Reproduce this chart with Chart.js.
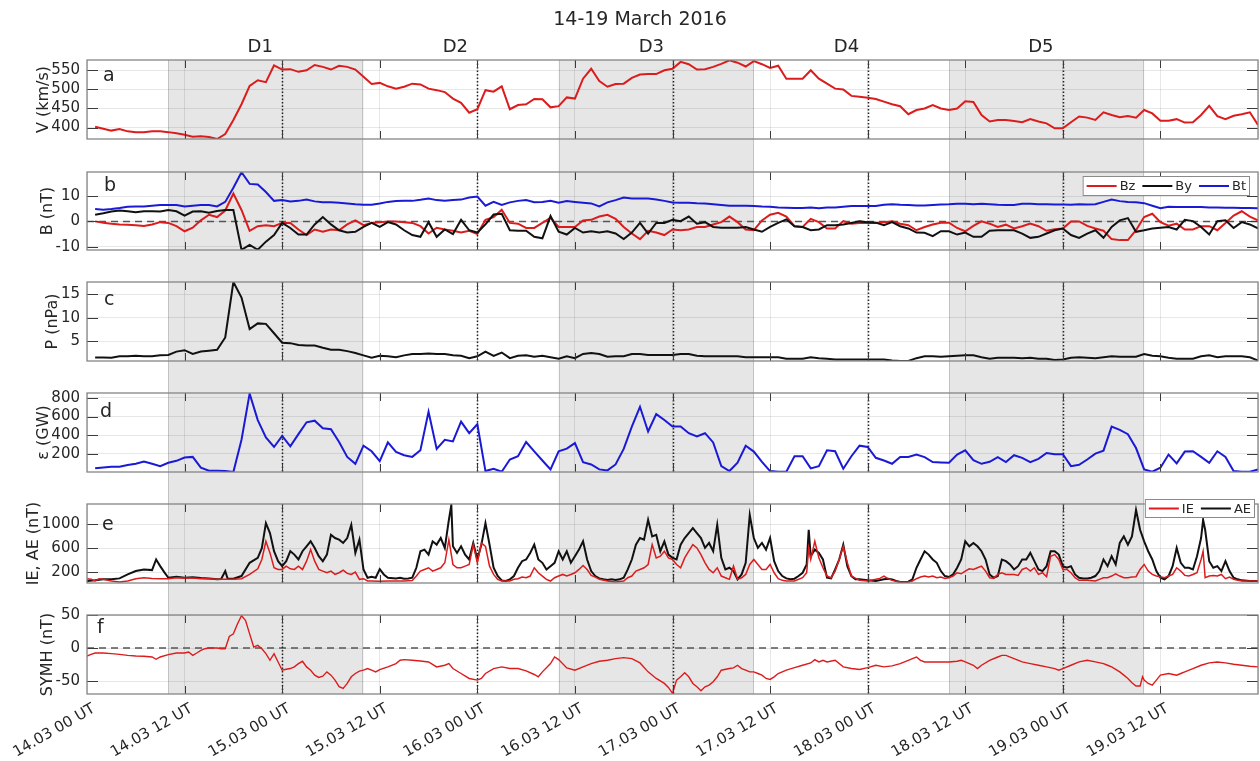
<!DOCTYPE html>
<html><head><meta charset="utf-8">
<script src="https://cdn.jsdelivr.net/npm/chart.js@4.4.1/dist/chart.umd.min.js"></script>
<style>
html,body{margin:0;padding:0;background:#fff;width:1260px;height:761px;overflow:hidden;position:relative}
canvas{position:absolute;left:0}
</style></head><body>
<canvas id="pa"></canvas><canvas id="pb"></canvas><canvas id="pc"></canvas>
<canvas id="pd"></canvas><canvas id="pe"></canvas><canvas id="pf"></canvas>
<script>
// ---------------- DATA ----------------
const chartTitle = '14-19 March 2016';
const xTickHours = [0,12,24,36,48,60,72,84,96,108,120,132,144];
const xTickLabels = ['14.03 00 UT','14.03 12 UT','15.03 00 UT','15.03 12 UT','16.03 00 UT','16.03 12 UT','17.03 00 UT','17.03 12 UT','18.03 00 UT','18.03 12 UT','19.03 00 UT','19.03 12 UT',''];
const dayLineHours = [24,48,72,96,120];
const shadedIntervals = [[10,34],[58,82],[106,130]];
const intervalNames = ['D1','D2','D3','D4','D5'];
const intervalLabelHours = [21.3,45.3,69.4,93.4,117.3];
const hourlyFirstHour = 1; // hourly values start at 14.03 01 UT

// solar wind speed V (km/s), hourly
const speedV = [402,397,392,396,390,388,388,390,390,388,385,381,376,377,375,370,383,420,461,509,524,519,563,552,553,546,550,564,559,552,562,559,552,533,514,517,508,502,507,515,
513,502,498,493,476,465,439,448,498,494,508,448,459,461,475,474,453,456,479,476,528,554,522,507,514,515,530,539,540,540,550,554,572,566,552,553,559,567,576,570,560,574,566,556,562,528,528,528,550,528,
515,502,500,483,481,478,475,468,461,456,435,446,450,459,450,446,450,469,467,433,416,420,420,417,414,422,416,411,398,398,414,429,426,420,440,433,427,430,426,446,437,418,418,422,413,414,433,457,430,422,431,435,440,407];

// IMF components (nT), hourly
const bz = [0,-0.5,-0.9,-1.2,-1.3,-1.5,-1.8,-1.2,-0.3,-0.6,-1.9,-3.9,-2.5,0.4,2.6,1.7,4.3,11,4.5,-3.7,-1.9,-1.5,-1.9,-0.6,-0.6,-3.2,-5.4,-3.2,-4.1,-3.2,-3.5,-1.2,0.4,-1.5,-0.6,-0.3,0,0,-0.3,-0.6,
-1.9,-4.8,-2.5,-3.2,-3.7,-4.4,-3.7,-5.0,0.6,1.7,4.6,-0.6,-0.9,-2.6,-2.6,-0.6,1.4,-2.2,-2.2,-2.2,0.4,0.6,1.9,2.6,1.0,-2.2,-4.8,-7.0,-3.7,-4.4,-5.4,-3.2,-3.5,-3.2,-2.2,-2.2,-1.2,-0.3,1.9,-0.3,-3.2,-3.5,0.4,2.6,3.4,1.9,-1.9,-2.2,1.0,-0.3,
-2.8,-2.8,0.1,-0.9,-0.6,-0.6,-0.6,-0.3,0,-0.9,-1.5,-3.5,-2.2,-1.2,-0.5,-0.5,-2.6,-3.9,-1.8,0,-0.9,-2.2,-1.3,-2.8,-1.9,-0.9,-1.9,-3.7,-3.1,-2.8,0,0,-1.8,-2.8,-3.7,-7.0,-7.4,-7.4,-3.5,1.7,3.0,-0.3,-1.7,-0.9,-3.2,-3.2,-1.9,-1.9,-3.5,-0.6,2.3,4.0,1.9,0.4];
const by = [2.6,3.2,3.9,4.3,4.0,3.6,4.0,4.0,3.9,4.5,4.0,2.3,3.9,4.0,3.4,4.1,4.5,4.5,-11.2,-9.3,-11.2,-8,-5.4,-0.6,-2.6,-5.2,-5.2,-1.2,1.7,-1.2,-3.5,-4.4,-4.1,-2.2,-0.6,-2.2,-0.3,-1.2,-3.5,-5.4,
-6.1,-0.3,-6.1,-3.2,-5.0,0.6,-3.5,-4.4,-1.2,2.7,3.0,-3.5,-3.7,-3.7,-6.1,-6.7,2.1,-4.1,-5.2,-2.6,-4.4,-3.9,-4.4,-3.9,-4.8,-7.0,-4.4,-0.6,-4.8,-0.6,-0.6,0.6,0.1,1.9,-0.9,-0.3,-2.2,-2.5,-2.5,-2.5,-2.2,-3.2,-4.1,-2.2,-0.6,0.8,-1.9,-2.2,-3.5,-3.2,
-1.5,-1.5,-1.2,-0.6,0,-0.3,-0.5,-1.5,-0.3,-1.9,-2.8,-4.4,-4.5,-5.8,-3.9,-3.9,-5.2,-4.4,-6.1,-6.1,-3.7,-3.5,-3.5,-3.5,-4.8,-6.5,-6.1,-4.8,-3.5,-2.8,-5.4,-6.5,-4.8,-3.5,-6.5,-2.2,0.4,1.3,-4.1,-3.5,-2.8,-2.5,-2.2,-3.2,0.6,0.1,-2.2,-5.2,0.1,0.4,-2.6,-0.3,-1.2,-2.8];
const bt = [4.9,4.6,4.9,5.3,5.8,5.9,5.9,6.2,6.5,6.5,6.5,5.9,6.2,6.5,6.5,5.9,7.7,13.3,19.4,14.8,14.6,11.6,8.1,8.4,7.9,8.1,8.6,7.9,7.6,7.6,7.4,7.1,6.8,6.6,6.6,7.1,7.7,8.0,8.1,8.1,
8.5,9.0,8.4,8.1,8.4,8.6,9.4,9.8,6.2,7.7,6.5,7.5,8.1,8.4,7.6,7.7,8.1,7.4,8.0,7.7,7.4,7.1,5.9,7.5,8.4,9.4,9.0,9.0,9.0,8.6,8.1,7.5,7.4,7.4,7.2,7.1,6.8,6.5,6.2,6.2,6.2,6.1,5.9,5.8,5.5,5.4,5.3,5.3,5.5,5.2,
5.5,5.5,5.8,6.1,6.1,6.1,6.1,6.6,6.8,6.6,6.5,6.3,6.3,6.5,6.7,6.8,7.0,7.0,6.8,7.0,6.8,6.6,6.5,6.5,7.0,7.0,6.8,6.8,6.7,6.7,6.6,6.8,6.7,6.8,7.7,8.6,8.0,7.7,7.6,7.2,6.2,5.2,5.8,5.7,5.7,5.7,5.7,5.5,5.5,5.4,5.4,5.3,5.3,5.2];

// dynamic pressure P (nPa), hourly
const pressure = [1.55,1.55,1.5,1.8,1.8,1.9,1.8,1.8,2.0,2.1,2.8,3.1,2.3,2.8,3.0,3.2,5.8,17.6,14.3,7.6,8.8,8.7,6.7,4.7,4.6,4.2,4.1,4.1,3.6,3.2,3.2,2.9,2.5,2.0,1.5,1.9,1.8,1.6,2.0,2.3,
2.3,2.4,2.3,2.3,2.0,1.9,1.4,1.8,2.8,1.9,2.6,1.4,1.9,2.0,1.7,1.9,1.6,1.3,1.8,1.4,2.3,2.5,2.3,1.7,1.8,1.8,2.3,2.3,2.1,2.1,2.1,2.1,2.3,2.3,1.9,1.8,1.8,1.8,1.8,1.8,1.6,1.6,1.6,1.6,1.6,1.3,1.3,1.3,1.6,1.4,
1.3,1.1,1.1,1.1,1.1,1.1,1.1,1.1,0.9,0.8,0.8,1.4,1.8,1.8,1.7,1.8,1.9,2.0,2.0,1.6,1.3,1.5,1.5,1.5,1.4,1.5,1.3,1.3,1.0,1.1,1.5,1.6,1.5,1.4,1.6,1.8,1.7,1.7,1.7,2.3,1.9,1.8,1.5,1.3,1.3,1.3,1.8,2.0,1.6,1.8,1.8,1.8,1.6,0.9];

// coupling function epsilon (GW), hourly
const epsilon = [45,55,62,62,80,94,119,94,69,105,126,161,168,52,20,20,16,6,352,846,563,376,274,394,281,412,539,556,475,465,327,168,94,288,228,122,323,221,186,168,
239,652,253,352,334,546,422,518,16,41,9,140,175,327,228,129,34,228,256,316,112,87,34,23,87,253,493,705,440,627,563,493,493,422,387,422,323,69,16,105,288,225,115,16,9,9,175,175,45,69,
239,228,41,175,288,274,158,129,94,168,168,193,165,112,108,105,193,239,133,94,115,165,112,186,158,112,147,210,196,196,69,83,140,203,235,493,458,412,263,34,9,52,193,98,225,228,168,105,228,168,16,9,9,34];

// AE index (nT): [hour, value]
const aePoints = [[0,51],[1,62],[2,79],[3,79],[4,95],[5,161],[6,217],[7,244],[8,233],[8.5,410],[9,300],[9.5,200],[10,106],[11,123],[12,106],[13,112],[14,101],[15,95],[16,79],[16.5,85],[17,217],[17.3,90],[18,90],[19,134],[20,355],[21,437],[21.5,600],[22,1016],[22.5,851],[23,548],[23.5,382],[24,299],[24.5,382],[25,548],[25.5,492],[26,410],[26.5,548],[27,630],[27.5,713],[28,603],[28.5,465],[29,382],[29.5,492],[30,823],[30.5,768],[31,741],[31.5,686],[32,768],[32.5,989],[33,520],[33.5,741],[34,244],[34.5,106],[35,123],[35.5,106],[36,250],[36.5,161],[37,106],[38,95],[38.5,106],[39,90],[39.5,95],[40,106],[40.5,272],[41,548],[41.5,575],[42,492],[42.5,713],[43,658],[43.5,768],[44,603],[44.5,1072],[44.8,1320],[45,630],[45.5,520],[46,630],[46.5,492],[47,410],[47.5,686],[48,410],[48.5,658],[49,1016],[49.5,658],[50,272],[50.5,134],[51,62],[51.5,51],[52,79],[52.5,134],[53,272],[53.5,382],[54,410],[54.5,520],[55,658],[55.5,410],[56,355],[56.5,244],[57,299],[57.5,355],[58,548],[58.5,410],[59,548],[59.5,355],[60,465],[60.5,575],[61,713],[61.5,410],[62,217],[62.5,134],[63,95],[63.5,79],[64,68],[64.5,79],[65,68],[65.5,79],[66,106],[66.5,244],[67,410],[67.5,658],[68,768],[68.5,741],[69,1072],[69.5,796],[70,823],[70.5,548],[71,713],[71.5,492],[72,437],[72.5,410],[73,658],[73.5,768],[74,851],[74.5,934],[75,851],[75.5,768],[76,603],[76.5,686],[77,548],[77.5,989],[78,437],[78.5,244],[79,272],[79.5,217],[80,79],[80.5,161],[81,355],[81.5,1154],[82,768],[82.5,603],[83,686],[83.5,575],[84,768],[84.5,382],[85,217],[85.5,134],[86,95],[86.5,79],[87,90],[87.5,134],[88,189],[88.5,327],[88.75,906],[89,465],[89.5,575],[90,520],[90.5,410],[91,106],[91.5,95],[92,244],[92.5,410],[93,658],[93.5,299],[94,134],[94.5,79],[95,79],[96,62],[97,51],[98,79],[98.5,90],[99,79],[99.5,51],[100,35],[101,40],[101.5,79],[102,272],[102.5,410],[103,548],[103.5,492],[104,410],[104.5,355],[105,217],[105.5,134],[106,117],[106.5,161],[107,272],[107.5,410],[108,713],[108.5,630],[109,686],[109.5,630],[110,548],[110.5,410],[111,161],[111.5,106],[112,134],[112.5,410],[113,382],[113.5,327],[114,244],[114.5,299],[115,410],[115.5,410],[116,520],[116.5,382],[117,244],[117.5,217],[118,299],[118.5,548],[119,548],[119.5,492],[120,299],[120.5,272],[121,299],[121.5,161],[122,106],[122.5,95],[123,95],[123.5,106],[124,134],[124.5,217],[125,410],[125.5,299],[126,465],[126.5,327],[127,686],[127.5,796],[128,658],[128.5,796],[129,1237],[129.5,906],[130,713],[130.5,548],[131,410],[131.5,217],[132,106],[132.5,79],[133,134],[133.5,299],[134,603],[134.5,355],[135,272],[135.5,272],[136,244],[136.5,465],[137,768],[137.25,1072],[137.5,906],[138,382],[138.5,272],[139,299],[139.5,217],[140,382],[140.5,217],[141,106],[141.5,79],[142,62],[143,51],[144,51]];

// IE index (nT): [hour, value]
const iePoints = [[0,90],[0.5,79],[1,51],[1.5,90],[2,79],[3,51],[4,35],[5,51],[6,90],[7,106],[8,95],[9,90],[10,90],[11,106],[12,101],[13,101],[14,90],[15,90],[16,79],[17,79],[18,79],[19,90],[20,161],[21,255],[21.5,410],[22,713],[22.5,520],[23,272],[23.5,244],[24,244],[24.5,299],[25,255],[25.5,244],[26,299],[26.5,244],[27,382],[27.5,575],[28,382],[28.5,244],[29,217],[29.5,189],[30,217],[30.5,161],[31,189],[31.5,233],[32,178],[32.5,161],[33,200],[33.5,79],[34,90],[34.5,51],[35,51],[36,48],[37,51],[38,51],[39,51],[40,60],[40.5,134],[41,217],[41.5,244],[42,272],[42.5,217],[43,244],[43.5,272],[44,355],[44.5,741],[45,327],[45.5,272],[46,272],[46.5,299],[47,327],[47.5,658],[48,355],[48.5,686],[49,630],[49.5,299],[50,161],[50.5,79],[51,51],[52,51],[52.5,79],[53,90],[53.5,117],[54,106],[54.5,134],[55,272],[55.5,189],[56,134],[56.5,79],[57,51],[57.5,106],[58,134],[58.5,161],[59,134],[59.5,161],[60,189],[60.5,244],[61,310],[61.5,244],[62,145],[62.5,117],[63,79],[64,51],[65,35],[66,51],[66.5,106],[67,134],[67.5,217],[68,244],[68.5,272],[69,327],[69.5,658],[70,437],[70.5,465],[71,548],[71.5,437],[72,410],[72.5,327],[73,272],[73.5,437],[74,548],[74.5,658],[75,603],[75.5,492],[76,355],[76.5,244],[77,189],[77.5,272],[78,134],[78.5,106],[79,79],[79.5,299],[80,79],[80.5,106],[81,161],[81.5,327],[82,410],[82.5,327],[83,244],[83.5,244],[84,327],[84.5,189],[85,90],[85.5,62],[86,51],[87,51],[88,106],[88.5,189],[88.75,600],[89,410],[89.5,713],[90,437],[90.5,272],[91,134],[91.5,106],[92,217],[92.5,410],[93,630],[93.5,355],[94,134],[95,62],[96,51],[97,79],[97.5,95],[98,134],[98.5,90],[99,62],[100,35],[101,35],[101.5,51],[102,90],[102.5,117],[103,134],[103.5,117],[104,134],[104.5,106],[105,117],[105.5,95],[106,106],[106.5,134],[107,189],[107.5,172],[108,217],[108.5,255],[109,244],[109.5,272],[110,299],[110.5,217],[111,106],[111.5,95],[112,161],[112.5,189],[113,161],[113.5,161],[114,161],[114.5,145],[115,244],[115.5,272],[116,217],[116.5,272],[117,161],[117.5,189],[118,123],[118.5,465],[119,492],[119.5,410],[120,244],[120.5,244],[121,189],[121.5,106],[122,62],[123,62],[124,51],[124.5,79],[125,106],[125.5,106],[126,134],[126.5,172],[127,134],[127.5,106],[128,106],[128.5,117],[129,123],[129.5,244],[130,327],[130.5,217],[131,161],[131.5,134],[132,123],[132.5,106],[133,134],[133.5,161],[134,272],[134.5,217],[135,145],[135.5,134],[136,161],[136.5,189],[137,410],[137.25,548],[137.5,106],[138,134],[138.5,145],[139,134],[139.5,161],[140,90],[140.5,117],[141,79],[141.5,62],[142,51],[143,51],[144,51]];

// SYM-H (nT): [hour, value]
const symhPoints = [[0,-12],[0.5,-9.5],[1,-7.5],[2,-7.5],[3,-8.5],[4,-9.5],[5,-11],[6,-12],[7,-12.5],[8,-13.5],[8.5,-17],[9,-13.5],[10,-10],[11,-7.5],[12,-7.5],[12.5,-6],[13,-11],[13.5,-7.5],[14,-3.5],[14.5,-1],[15,0],[16,0],[16.5,-1],[17,-1],[17.5,17.5],[18,21.5],[18.5,36.5],[19,49],[19.5,41.5],[20,21.5],[20.5,1.5],[21,4],[21.5,-1],[22,-8.5],[22.5,-18.5],[23,-8.5],[23.5,-21],[24,-33.5],[24.5,-32],[25,-31],[25.5,-28.5],[26,-23.5],[26.5,-20],[27,-28.5],[27.5,-33.5],[28,-41],[28.5,-44.5],[29,-42.5],[29.5,-36],[30,-41],[30.5,-48.5],[31,-58.5],[31.5,-61],[32,-53.5],[32.5,-43.5],[33,-38.5],[33.5,-35],[34,-33.5],[34.5,-31],[35,-33.5],[35.5,-36],[36,-32.5],[37,-28.5],[38,-23.5],[38.5,-18.5],[39,-17.5],[40,-18.5],[41,-19.5],[42,-21],[43,-28.5],[44,-26],[44.5,-23.5],[45,-31],[46,-38.5],[47,-46],[48,-48.5],[48.5,-46],[49,-38.5],[50,-31],[51,-28.5],[52,-31],[53,-31],[54,-34.5],[55,-40],[55.5,-43.5],[56,-36],[57,-23.5],[57.5,-13.5],[58,-17.5],[59,-30],[60,-33.5],[61,-28.5],[62,-23.5],[63,-20],[64,-18.5],[65,-16],[66,-14.5],[67,-16],[68,-22.5],[69,-36],[70,-46],[71,-53.5],[71.5,-59.5],[72,-68.5],[72.5,-48.5],[73,-43.5],[73.5,-37.5],[74,-43.5],[74.5,-53.5],[75,-58.5],[75.5,-64.5],[76,-58.5],[76.5,-56],[77,-51],[77.5,-43.5],[78,-33.5],[79,-31],[79.5,-30],[80,-26],[80.5,-31],[81,-33.5],[81.5,-36],[82,-36],[82.5,-38.5],[83,-41],[83.5,-46],[84,-47.5],[84.5,-43.5],[85,-38.5],[86,-33.5],[87,-29.5],[88,-26],[89,-22.5],[89.5,-17.5],[90,-21],[90.5,-18.5],[91,-21],[92,-18.5],[93,-28.5],[94,-31],[95,-32.5],[96,-29.5],[97,-26],[98,-28.5],[99,-27],[100,-23.5],[101,-18.5],[101.5,-16],[102,-13.5],[102.5,-18.5],[103,-21],[104,-21],[105,-21],[106,-21],[107,-20],[107.5,-18.5],[108,-21],[109,-26],[109.5,-31],[110,-26],[111,-18.5],[112,-13.5],[112.5,-11],[113,-11],[114,-16],[115,-21],[116,-23.5],[117,-26],[118,-28.5],[119,-31],[119.5,-33.5],[120,-31],[121,-26],[122,-21],[123,-18.5],[124,-21],[125,-23.5],[125.5,-26],[126,-28.5],[127,-36],[127.5,-41],[128,-46],[128.5,-52.5],[129,-57.5],[129.5,-57.5],[129.8,-43.5],[130,-48.5],[130.5,-53.5],[131,-56],[131.5,-48.5],[132,-41],[133,-38.5],[134,-41],[134.5,-38.5],[135,-36],[136,-31],[137,-26],[138,-22.5],[139,-21],[140,-22.5],[141,-24.5],[142,-26],[143,-27.5],[144,-28.5]];

// y tick values per panel
const ticksV = [400,450,500,550];
const ticksB = [-10,0,10];
const ticksP = [5,10,15];
const ticksEps = [200,400,600,800];
const ticksAE = [200,400,600,800,1000,1200];
const labelledTicksAE = [200,600,1000];
const ticksSYMH = [-50,0,50];

// ---------------- STYLE ----------------
const FONT = "'DejaVu Sans', 'Liberation Sans', sans-serif";
const TEXT = '#262626';
const GRID = 'rgba(38,38,38,0.11)';
const RED = '#dc1c1c', BLUE = '#1a1ad6', BLACK = '#111111';

const hourly = vals => vals.map((v, i) => ({x: hourlyFirstHour + i, y: v}));
const pairs = arr => arr.map(([x, y]) => ({x, y}));

const deco = {
  id: 'deco',
  beforeDraw(chart, args, o) {
    const {ctx, chartArea: ca} = chart; const x = chart.scales.x;
    const top = o.shadeFromAreaTop ? ca.top : 0;
    const bottom = o.shadeToAreaBottom ? ca.bottom : chart.height;
    ctx.save();
    for (const [a, b] of shadedIntervals) {
      const x0 = x.getPixelForValue(a), x1 = x.getPixelForValue(b);
      ctx.fillStyle = '#e6e6e6';
      ctx.fillRect(x0, top, x1 - x0, bottom - top);
      ctx.strokeStyle = '#c2c2c2'; ctx.lineWidth = 1;
      ctx.beginPath();
      ctx.moveTo(Math.round(x0) + 0.5, top); ctx.lineTo(Math.round(x0) + 0.5, bottom);
      ctx.moveTo(Math.round(x1) - 0.5, top); ctx.lineTo(Math.round(x1) - 0.5, bottom);
      ctx.stroke();
    }
    ctx.restore();
  },
  beforeDatasetsDraw(chart, args, o) {
    const {ctx, chartArea: ca} = chart; const x = chart.scales.x, y = chart.scales.y;
    ctx.save();
    if (o.zeroLine) {
      const y0 = y.getPixelForValue(0);
      ctx.strokeStyle = '#555'; ctx.lineWidth = 1.5; ctx.setLineDash([7, 5]);
      ctx.beginPath(); ctx.moveTo(ca.left, y0); ctx.lineTo(ca.right, y0); ctx.stroke();
    }
    ctx.strokeStyle = '#222'; ctx.lineWidth = 1.5; ctx.setLineDash([1.5, 2]);
    for (const h of dayLineHours) {
      const px = Math.round(x.getPixelForValue(h)) + 0.5;
      ctx.beginPath(); ctx.moveTo(px, ca.top); ctx.lineTo(px, ca.bottom); ctx.stroke();
    }
    ctx.restore();
  },
  afterDraw(chart, args, o) {
    const {ctx, chartArea: ca} = chart; const x = chart.scales.x, y = chart.scales.y;
    ctx.save();
    // inner tick marks
    ctx.strokeStyle = '#3a3a3a'; ctx.lineWidth = 1;
    ctx.beginPath();
    for (const h of xTickHours) {
      if (h === xTickHours[0] || h === xTickHours[xTickHours.length - 1]) continue;
      const px = Math.round(x.getPixelForValue(h)) + 0.5;
      ctx.moveTo(px, ca.top); ctx.lineTo(px, ca.top + 8);
      ctx.moveTo(px, ca.bottom); ctx.lineTo(px, ca.bottom - 8);
    }
    for (const t of y.ticks) {
      const py = Math.round(y.getPixelForValue(t.value)) + 0.5;
      ctx.moveTo(ca.left, py); ctx.lineTo(ca.left + 11, py);
      ctx.moveTo(ca.right, py); ctx.lineTo(ca.right - 11, py);
    }
    ctx.stroke();
    // box
    ctx.strokeStyle = '#868686'; ctx.lineWidth = 1.3;
    ctx.strokeRect(ca.left, ca.top, ca.right - ca.left, ca.bottom - ca.top);
    // panel letter
    ctx.fillStyle = TEXT; ctx.font = `19px ${FONT}`; ctx.textAlign = 'left'; ctx.textBaseline = 'alphabetic';
    ctx.fillText(o.letter, ca.left + o.letterDx, ca.top + o.letterDy);
    // legend
    if (o.legend) {
      ctx.font = `13px ${FONT}`;
      const items = o.legend.map(i => chart.data.datasets[i]);
      const lineLen = 30, gapLT = 3, gapItem = 7, pad = 4, h = o.legendH;
      let w = pad;
      items.forEach(d => { w += lineLen + gapLT + ctx.measureText(d.label).width + gapItem; });
      w = w - gapItem + pad;
      const right = ca.right + o.legendDx, top = ca.top + o.legendDy, left = right - w;
      ctx.fillStyle = '#fff'; ctx.fillRect(left, top, w, h);
      ctx.strokeStyle = '#8a8a8a'; ctx.lineWidth = 1; ctx.strokeRect(left + 0.5, top + 0.5, w - 1, h - 1);
      let cx = left + pad; const cy = top + h / 2;
      items.forEach(d => {
        ctx.strokeStyle = d.borderColor; ctx.lineWidth = 2;
        ctx.beginPath(); ctx.moveTo(cx, cy); ctx.lineTo(cx + lineLen, cy); ctx.stroke();
        cx += lineLen + gapLT;
        ctx.fillStyle = TEXT; ctx.textBaseline = 'middle';
        ctx.fillText(d.label, cx, cy + 1);
        cx += ctx.measureText(d.label).width + gapItem;
      });
    }
    // header (title and interval names)
    if (o.header) {
      ctx.fillStyle = TEXT; ctx.textAlign = 'center'; ctx.textBaseline = 'alphabetic';
      ctx.font = `19px ${FONT}`;
      ctx.fillText(chartTitle, 640, 25);
      ctx.font = `18px ${FONT}`;
      intervalNames.forEach((n, i) => ctx.fillText(n, x.getPixelForValue(intervalLabelHours[i]), 51.5));
    }
    ctx.restore();
  }
};

function makePanel(id, p) {
  const el = document.getElementById(id);
  el.style.top = p.canvasTop + 'px';
  el.width = 1260; el.height = p.canvasHeight;
  const isBottom = !!p.bottomAxis;
  const xScale = {
    type: 'linear', min: 0, max: 144,
    afterBuildTicks: s => { s.ticks = xTickHours.map(v => ({value: v})); },
    border: {display: false},
    grid: {color: GRID, drawTicks: false},
    ticks: isBottom ? {
      display: true, autoSkip: false, minRotation: 30, maxRotation: 30, padding: 6, labelOffset: 7,
      font: {family: FONT, size: 15}, color: TEXT,
      callback: v => { const i = xTickHours.indexOf(v); return i >= 0 ? xTickLabels[i] : ''; }
    } : {display: false},
    afterFit: s => { s.height = isBottom ? 67 : 0; s.paddingLeft = 0; s.paddingRight = 0; }
  };
  const yScale = {
    min: p.yMin, max: p.yMax,
    afterFit: s => { s.width = 87; },
    afterBuildTicks: s => { s.ticks = p.yTicks.map(v => ({value: v})); },
    border: {display: false},
    grid: {color: GRID, drawTicks: false},
    ticks: {font: {family: FONT, size: 15}, color: TEXT, padding: 7,
      callback: p.yLabel || (v => String(v))},
    title: {display: true, text: p.yTitle, color: TEXT, font: {family: FONT, size: 16},
      padding: {top: p.titlePad, bottom: 0}}
  };
  return new Chart(el, {
    type: 'line',
    data: {datasets: p.datasets},
    options: {
      responsive: false, animation: false, devicePixelRatio: 1,
      layout: {padding: {left: 0, right: 2, top: p.padTop, bottom: p.padBottom}},
      elements: {point: {radius: 0}, line: {tension: 0}},
      plugins: {legend: {display: false}, tooltip: {enabled: false}, deco: p.deco},
      scales: {x: xScale, y: yScale}
    },
    plugins: [deco]
  });
}

const line = (label, data, color, width, order) => ({label, data, borderColor: color, backgroundColor: color, borderWidth: width, fill: false, order});

makePanel('pa', {canvasTop: 0, canvasHeight: 155, padTop: 60, padBottom: 16,
  yMin: 370, yMax: 577, yTicks: ticksV, yTitle: 'V (km/s)', titlePad: 34,
  datasets: [line('V', hourly(speedV), RED, 2, 0)],
  deco: {letter: 'a', letterDx: 16, letterDy: 21, shadeFromAreaTop: true, header: true}});

makePanel('pb', {canvasTop: 155, canvasHeight: 111, padTop: 17, padBottom: 16,
  yMin: -11.3, yMax: 19.5, yTicks: ticksB, yTitle: 'B (nT)', titlePad: 38,
  datasets: [line('Bz', hourly(bz), RED, 2, 2), line('By', hourly(by), BLACK, 2, 1), line('Bt', hourly(bt), BLUE, 2, 0)],
  deco: {letter: 'b', letterDx: 17, letterDy: 19, zeroLine: true, legend: [0, 1, 2], legendDx: -8, legendDy: 4, legendH: 20}});

makePanel('pc', {canvasTop: 266, canvasHeight: 111, padTop: 16, padBottom: 16,
  yMin: 0.8, yMax: 17.6, yTicks: ticksP, yTitle: 'P (nPa)', titlePad: 43,
  datasets: [line('P', hourly(pressure), BLACK, 2, 0)],
  deco: {letter: 'c', letterDx: 17, letterDy: 23}});

makePanel('pd', {canvasTop: 377, canvasHeight: 111, padTop: 16, padBottom: 15,
  yMin: 6, yMax: 853, yTicks: ticksEps, yTitle: 'ε (GW)', titlePad: 34,
  datasets: [line('ε', hourly(epsilon), BLUE, 2, 0)],
  deco: {letter: 'd', letterDx: 13, letterDy: 24}});

makePanel('pe', {canvasTop: 488, canvasHeight: 111, padTop: 16, padBottom: 15,
  yMin: 18, yMax: 1336, yTicks: ticksAE, yTitle: 'IE, AE (nT)', titlePad: 24,
  yLabel: v => labelledTicksAE.includes(v) ? String(v) : '',
  datasets: [line('IE', pairs(iePoints), RED, 1.5, 0), line('AE', pairs(aePoints), BLACK, 2, 1)],
  deco: {letter: 'e', letterDx: 15, letterDy: 26, legend: [0, 1], legendDx: -3, legendDy: -5, legendH: 19}});

makePanel('pf', {canvasTop: 599, canvasHeight: 162, padTop: 16, padBottom: 0, bottomAxis: true,
  yMin: -69.5, yMax: 50, yTicks: ticksSYMH, yTitle: 'SYMH (nT)', titlePad: 38,
  datasets: [line('SYMH', pairs(symhPoints), RED, 1.4, 0)],
  deco: {letter: 'f', letterDx: 10, letterDy: 18, zeroLine: true, shadeToAreaBottom: true}});
</script>
</body></html>
